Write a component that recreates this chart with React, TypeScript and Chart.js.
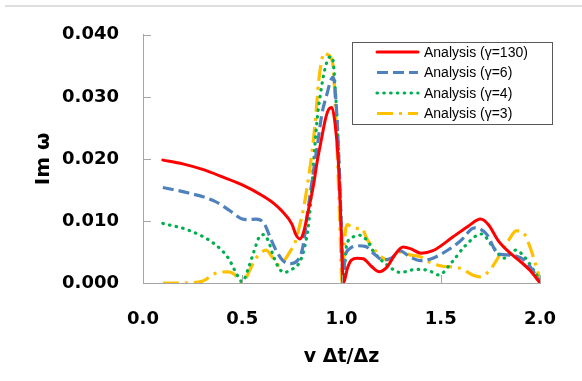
import React, { useEffect, useRef } from 'react';
import { Chart, registerables } from 'chart.js';

Chart.register(...registerables);

// Growth rate curves, Im ω versus the Courant number v Δt/Δz
const seriesLabels = ['Analysis (γ=130)', 'Analysis (γ=6)', 'Analysis (γ=4)', 'Analysis (γ=3)'];

const g130X = [0.1, 0.2, 0.3, 0.4, 0.5, 0.6, 0.66, 0.7, 0.75, 0.77, 0.79, 0.81, 0.83, 0.86, 0.877, 0.902, 0.918, 0.934, 0.951, 0.967, 0.984, 1.0, 1.008, 1.016, 1.03, 1.05, 1.08, 1.11, 1.15, 1.19, 1.23, 1.27, 1.31, 1.35, 1.4, 1.46, 1.56, 1.64, 1.7, 1.74, 1.79, 1.85, 1.9, 1.95, 2.0];
const g130Y = [0.0198, 0.0192, 0.0183, 0.0171, 0.0158, 0.0141, 0.0128, 0.0116, 0.0095, 0.0078, 0.0071, 0.0083, 0.0113, 0.016, 0.0195, 0.0237, 0.0263, 0.0279, 0.0283, 0.0258, 0.0195, 0.007, 0.0, 0.0005, 0.0024, 0.0037, 0.004, 0.0039, 0.0027, 0.0018, 0.0026, 0.0046, 0.0058, 0.0055, 0.0048, 0.0052, 0.0074, 0.0092, 0.0103, 0.0094, 0.0068, 0.0048, 0.0035, 0.002, 0.0];

const g6X = [0.1, 0.23, 0.36, 0.44, 0.5, 0.53, 0.57, 0.61, 0.64, 0.67, 0.705, 0.74, 0.78, 0.805, 0.83, 0.861, 0.885, 0.902, 0.927, 0.945, 0.958, 0.967, 0.984, 1.0, 1.008, 1.017, 1.04, 1.08, 1.12, 1.16, 1.21, 1.25, 1.295, 1.34, 1.4, 1.46, 1.54, 1.6, 1.67, 1.73, 1.79, 1.85, 1.92, 2.0];
const g6Y = [0.0154, 0.0145, 0.0132, 0.0116, 0.0103, 0.0102, 0.0103, 0.0096, 0.0074, 0.0053, 0.0036, 0.0031, 0.0037, 0.0058, 0.0116, 0.0185, 0.0237, 0.0274, 0.0305, 0.0326, 0.0332, 0.0315, 0.022, 0.008, 0.0, 0.004, 0.0055, 0.006, 0.0059, 0.0048, 0.0037, 0.004, 0.0052, 0.0043, 0.0036, 0.004, 0.0054, 0.0068, 0.0089, 0.0079, 0.0047, 0.0045, 0.0037, 0.0003];

const g4X = [0.1, 0.23, 0.36, 0.43, 0.476, 0.5, 0.533, 0.558, 0.585, 0.607, 0.631, 0.656, 0.681, 0.71, 0.75, 0.786, 0.812, 0.836, 0.853, 0.861, 0.877, 0.894, 0.918, 0.945, 0.955, 0.967, 0.984, 1.0, 1.008, 1.025, 1.057, 1.09, 1.13, 1.156, 1.19, 1.23, 1.295, 1.377, 1.44, 1.49, 1.557, 1.623, 1.705, 1.763, 1.82, 1.877, 1.927, 1.967, 2.0];
const g4Y = [0.0096, 0.0085, 0.0063, 0.004, 0.0012, 0.0002, 0.0026, 0.005, 0.0074, 0.0078, 0.0068, 0.0044, 0.0026, 0.0017, 0.0022, 0.0032, 0.0055, 0.01, 0.0165, 0.02, 0.0263, 0.0305, 0.0347, 0.0365, 0.0362, 0.032, 0.022, 0.008, 0.0, 0.006, 0.0074, 0.0077, 0.0068, 0.0053, 0.004, 0.0029, 0.0017, 0.0022, 0.002, 0.0013, 0.0034, 0.006, 0.0079, 0.0058, 0.004, 0.0053, 0.004, 0.0021, 0.0004];

const g3X = [0.1, 0.2, 0.3, 0.36, 0.43, 0.46, 0.49, 0.5, 0.54, 0.558, 0.582, 0.62, 0.65, 0.69, 0.72, 0.745, 0.76, 0.787, 0.812, 0.836, 0.853, 0.869, 0.885, 0.902, 0.912, 0.93, 0.955, 0.976, 0.99, 1.003, 1.02, 1.03, 1.06, 1.1, 1.13, 1.156, 1.2, 1.24, 1.29, 1.35, 1.4, 1.44, 1.51, 1.56, 1.61, 1.66, 1.7, 1.75, 1.8, 1.84, 1.88, 1.91, 1.94, 1.97, 2.0];
const g3Y = [0.0, 0.0, 0.0003, 0.0015, 0.0018, 0.0014, 0.0002, 0.0, 0.0022, 0.0034, 0.0045, 0.0053, 0.0042, 0.0028, 0.004, 0.0053, 0.006, 0.009, 0.0126, 0.0175, 0.0215, 0.0265, 0.0325, 0.0362, 0.0371, 0.0368, 0.0355, 0.023, 0.011, 0.0, 0.0085, 0.0094, 0.0088, 0.0088, 0.007, 0.0058, 0.0042, 0.0037, 0.005, 0.0045, 0.0042, 0.0034, 0.0027, 0.0026, 0.0022, 0.0013, 0.001, 0.0022, 0.0047, 0.0068, 0.0084, 0.0083, 0.0066, 0.0038, 0.0005];

const xTickValues = [0, 0.5, 1.0, 1.5, 2.0];
const yTickValues = [0, 0.01, 0.02, 0.03, 0.04];

const W = 582;
const H = 381;
const AXIS_GRAY = '#a6a6a6';
const TICK_FONT = { family: '"DejaVu Sans", sans-serif', size: 18, weight: 'bold' as const };

const pts = (xs: number[], ys: number[]) => xs.map((x, i) => ({ x, y: ys[i] }));

// Page rule, inward tick marks and the boxed legend
const decorations = {
  id: 'decorations',
  beforeDraw(chart: any) {
    const c = chart.ctx;
    c.save();
    c.fillStyle = '#ffffff';
    c.fillRect(0, 0, W, H);
    c.fillStyle = '#dedede';
    c.fillRect(5, 5, W - 5, 2);
    c.restore();
  },
  afterDraw(chart: any) {
    const c = chart.ctx;
    const { left, bottom } = chart.chartArea;
    const xs = chart.scales.x;
    const ys = chart.scales.y;
    c.save();
    c.strokeStyle = AXIS_GRAY;
    c.lineWidth = 1;
    c.beginPath();
    yTickValues.slice(1).forEach((v) => {
      const py = Math.round(ys.getPixelForValue(v)) + 0.5;
      c.moveTo(left, py);
      c.lineTo(left + 8, py);
    });
    xTickValues.slice(1).forEach((v) => {
      const px = Math.round(xs.getPixelForValue(v)) + 0.5;
      c.moveTo(px, bottom);
      c.lineTo(px, bottom - 8);
    });
    c.stroke();

    // legend
    const bx = 352.5, by = 42.5, bw = 200, bh = 82;
    c.fillStyle = '#ffffff';
    c.fillRect(bx, by, bw, bh);
    c.strokeStyle = '#595959';
    c.lineWidth = 1;
    c.strokeRect(bx, by, bw, bh);
    c.font = '14px "Liberation Sans", Arial, sans-serif';
    c.textBaseline = 'middle';
    c.textAlign = 'left';
    chart.data.datasets.forEach((ds: any, i: number) => {
      const ry = 52 + i * 20.5;
      c.save();
      c.strokeStyle = ds.borderColor;
      c.lineWidth = ds.borderWidth;
      c.lineCap = ds.borderCapStyle || 'butt';
      c.setLineDash(ds.borderDash || []);
      c.beginPath();
      c.moveTo(377, ry);
      c.lineTo(418, ry);
      c.stroke();
      c.restore();
      c.fillStyle = '#000000';
      c.fillText(ds.label, 424, ry + 1);
    });
    c.restore();
  },
};

export default function App() {
  const ref = useRef<HTMLCanvasElement>(null);

  useEffect(() => {
    document.body.style.margin = '0';
    const canvas = ref.current;
    if (!canvas) return;

    const chart = new Chart(canvas, {
      type: 'line',
      data: {
        datasets: [
          {
            label: seriesLabels[0],
            data: pts(g130X, g130Y),
            borderColor: '#ff0000',
            borderWidth: 3,
            borderCapStyle: 'round',
          },
          {
            label: seriesLabels[1],
            data: pts(g6X, g6Y),
            borderColor: '#4f81bd',
            borderWidth: 3.2,
            borderDash: [11, 5],
          },
          {
            label: seriesLabels[2],
            data: pts(g4X, g4Y),
            borderColor: '#00b050',
            borderWidth: 3.2,
            borderDash: [0.5, 6.3],
            borderCapStyle: 'round',
          },
          {
            label: seriesLabels[3],
            data: pts(g3X, g3Y),
            borderColor: '#ffc000',
            borderWidth: 3.2,
            borderDash: [16, 6, 3, 6],
          },
        ],
      } as any,
      options: {
        responsive: false,
        animation: false,
        devicePixelRatio: 1,
        layout: { padding: { top: 30, right: 32, left: 0, bottom: 0 } },
        elements: {
          point: { radius: 0, hoverRadius: 0 },
          line: { cubicInterpolationMode: 'monotone', fill: false },
        },
        plugins: {
          legend: { display: false },
          tooltip: { enabled: false },
        },
        scales: {
          x: {
            type: 'linear',
            min: 0,
            max: 2,
            afterBuildTicks: (s: any) => {
              s.ticks = xTickValues.map((v) => ({ value: v }));
            },
            afterFit: (s: any) => {
              s.height = 98;
            },
            ticks: {
              font: TICK_FONT,
              color: '#000000',
              padding: 26,
              maxRotation: 0,
              callback: (v: any) => Number(v).toFixed(1),
            },
            grid: { display: true, drawOnChartArea: false, drawTicks: false },
            border: { display: true, color: AXIS_GRAY, width: 1 },
            title: {
              display: true,
              text: 'v Δt/Δz',
              color: '#000000',
              font: { family: '"DejaVu Sans", sans-serif', size: 19, weight: 'bold' },
              padding: { top: 0, bottom: 13 },
            },
          },
          y: {
            type: 'linear',
            min: 0,
            max: 0.04,
            afterBuildTicks: (s: any) => {
              s.ticks = yTickValues.map((v) => ({ value: v }));
            },
            afterFit: (s: any) => {
              s.width = 143;
            },
            ticks: {
              font: TICK_FONT,
              color: '#000000',
              padding: 24,
              callback: (v: any) => Number(v).toFixed(3),
            },
            grid: { display: true, drawOnChartArea: false, drawTicks: false },
            border: { display: true, color: AXIS_GRAY, width: 1 },
            title: {
              display: true,
              text: 'Im ω',
              color: '#000000',
              font: { family: '"DejaVu Sans", sans-serif', size: 20, weight: 'bold' },
              padding: { top: 32, bottom: 0 },
            },
          },
        },
      } as any,
      plugins: [decorations],
    });

    return () => chart.destroy();
  }, []);

  return (
    <div style={{ position: 'relative', width: W, height: H }}>
      <canvas ref={ref} width={W} height={H} />
    </div>
  );
}
